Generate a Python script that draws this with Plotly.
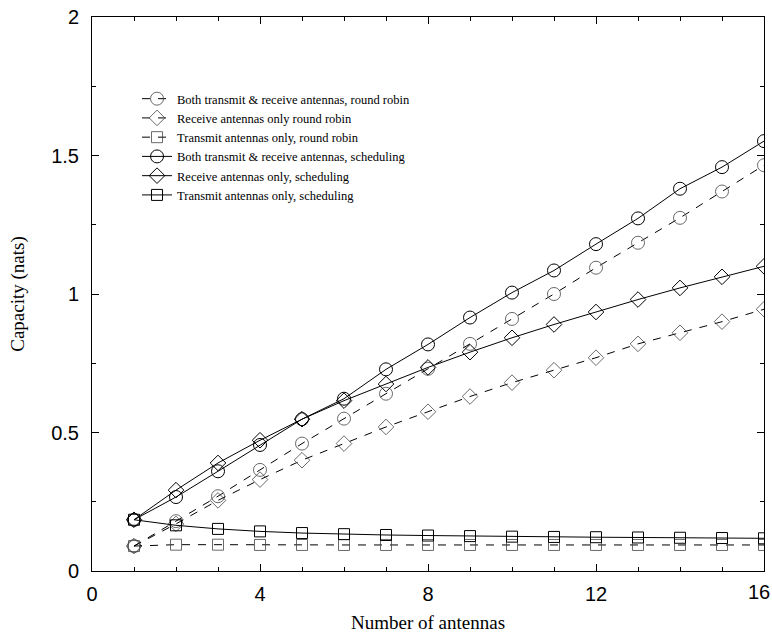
import plotly.graph_objects as go

antennas = list(range(1, 17))

rr_both = [0.09, 0.18, 0.27, 0.365, 0.46, 0.55, 0.64, 0.73, 0.82, 0.91, 1.0, 1.095, 1.185, 1.275, 1.37, 1.465]
rr_receive = [0.09, 0.17, 0.255, 0.33, 0.40, 0.46, 0.52, 0.575, 0.63, 0.68, 0.725, 0.77, 0.82, 0.86, 0.90, 0.945]
rr_transmit = [0.09, 0.095, 0.095, 0.094, 0.094, 0.094, 0.094, 0.094, 0.094, 0.094, 0.094, 0.094, 0.094, 0.094, 0.094, 0.094]
sch_both = [0.185, 0.267, 0.36, 0.455, 0.548, 0.622, 0.728, 0.818, 0.915, 1.005, 1.085, 1.18, 1.273, 1.38, 1.458, 1.552]
sch_receive = [0.185, 0.292, 0.39, 0.472, 0.548, 0.615, 0.675, 0.735, 0.79, 0.842, 0.89, 0.935, 0.98, 1.022, 1.062, 1.10]
sch_transmit = [0.185, 0.165, 0.152, 0.143, 0.137, 0.133, 0.13, 0.128, 0.126, 0.124, 0.123, 0.122, 0.121, 0.12, 0.119, 0.118]

x_tickvals = [0, 4, 8, 12, 16]
x_ticktext = ["0", "4", "8", "12", "16"]
y_tickvals = [0, 0.5, 1, 1.5, 2]
y_ticktext = ["0", "0.5", "1", "1.5", "2"]

names = [
    "Both transmit & receive antennas, round robin",
    "Receive antennas only round robin",
    "Transmit antennas only, round robin",
    "Both transmit & receive antennas, scheduling",
    "Receive antennas only, scheduling",
    "Transmit antennas only, scheduling",
]
series = [rr_both, rr_receive, rr_transmit, sch_both, sch_receive, sch_transmit]
symbols = ["circle-open", "diamond-open", "square-open", "circle-open", "diamond-open", "square-open"]
dashes = ["8px,8px"] * 3 + ["solid"] * 3
sizes = {"circle-open": 13, "diamond-open": 12, "square-open": 11}

tick_font = dict(family="Liberation Sans, Arial, sans-serif", size=20, color="black")
title_font = dict(family="Liberation Serif, Times New Roman, serif", size=19, color="black")

fig = go.Figure()
for name, ys, sym, dash in zip(names, series, symbols, dashes):
    rr = dash != "solid"
    fig.add_trace(go.Scatter(
        x=antennas, y=ys, name=name, mode="lines+markers",
        line=dict(color="black", width=1, dash=dash),
        marker=dict(symbol=sym, size=sizes[sym],
                    color="#444" if rr else "black",
                    line=dict(width=0.8 if rr else 1)),
    ))

axis_common = dict(
    showgrid=False, zeroline=False, showline=True, linecolor="black", linewidth=1,
    mirror="ticks", ticks="inside", ticklen=7, tickcolor="black", automargin=False,
    tickfont=tick_font,
)

# last x tick label drawn as an annotation so it stays inside the page edge
fig.add_annotation(
    x=x_tickvals[-1], xref="x", y=0, yref="paper",
    text=x_ticktext[-1], showarrow=False, font=tick_font,
    xanchor="right", yanchor="top", xshift=8, yshift=-8,
)

fig.update_layout(
    width=772, height=640,
    margin=dict(l=92, r=8, t=17, b=69),
    paper_bgcolor="white", plot_bgcolor="white",
    showlegend=True,
    legend=dict(
        x=0.067, y=0.879, xanchor="left", yanchor="top",
        bgcolor="rgba(0,0,0,0)", borderwidth=0,
        font=dict(family="Liberation Serif, Times New Roman, serif", size=12.5, color="black"),
        tracegroupgap=0, itemwidth=30,
    ),
    xaxis=dict(
        range=[0, 16], tickvals=x_tickvals, ticktext=x_ticktext[:-1] + [""],
        minor=dict(dtick=1, ticks="inside", ticklen=4, tickcolor="black"),
        ticklabelstandoff=5,
        title=dict(text="Number of antennas", font=title_font, standoff=11),
        **axis_common,
    ),
    yaxis=dict(
        range=[0, 2], tickvals=y_tickvals, ticktext=y_ticktext,
        minor=dict(dtick=0.25, ticks="inside", ticklen=4, tickcolor="black"),
        ticklabelstandoff=8,
        title=dict(text="Capacity (nats)", font=title_font, standoff=21),
        **axis_common,
    ),
)

fig.write_html("out.html", config={"displayModeBar": False},
               post_script="document.body.style.margin='0';")
